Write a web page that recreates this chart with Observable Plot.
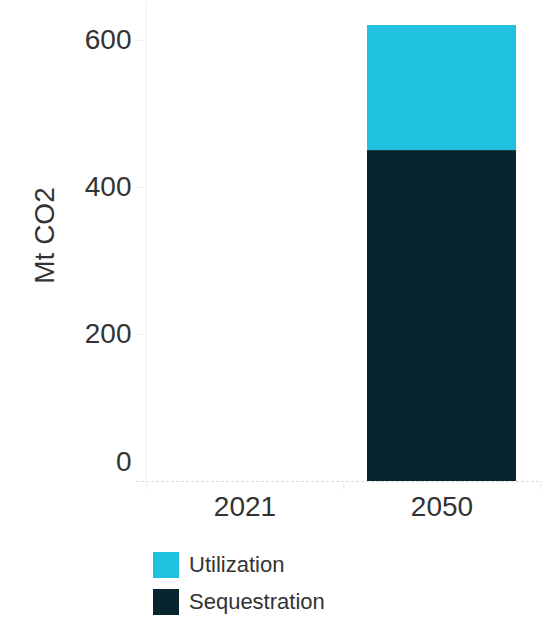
<!DOCTYPE html>
<html><head><meta charset="utf-8">
<script src="https://cdn.jsdelivr.net/npm/d3@7"></script>
<script src="https://cdn.jsdelivr.net/npm/@observablehq/plot@0.6"></script>
<style>
body{margin:0;background:#fff;font-family:"Liberation Sans",Arial,sans-serif;}
#legend{margin-left:153px;margin-top:22px;}
.item{display:flex;align-items:center;height:26px;margin-bottom:11px;font-size:22px;color:#333}
.sw{width:26px;height:26px;margin-right:10px}
</style></head><body><div id="chart"></div><div id="legend"></div>
<script>
const years = ["2021", "2050"];
const series = ["Sequestration", "Utilization"];
const sequestration = [0, 450];
const utilization = [0, 170];
const yTicks = [200, 400, 600];
const zeroTick = [0];
const colors = ["#08242e", "#21c2df"];
const yTitle = "Mt CO2";

const W = 550, H = 530, ML = 145, MR = 10, MT = 3, MB = 49;
const step = (W - ML - MR) / years.length;
const data = years.flatMap((y, i) => [
  {year: y, type: series[0], value: sequestration[i]},
  {year: y, type: series[1], value: utilization[i]}
]);

const plot = Plot.plot({
  width: W, height: H,
  marginLeft: ML, marginRight: MR, marginTop: MT, marginBottom: MB,
  style: {fontFamily: '"Liberation Sans", Arial, sans-serif', background: "white", color: "#333"},
  x: {domain: years, paddingInner: 0.245, paddingOuter: 0.1225, label: null},
  y: {domain: [0, 650], label: null},
  color: {domain: series, range: colors},
  marks: [
    Plot.ruleX([years[0]], {x: d => d, dx: -step / 2, stroke: "#eee", insetBottom: -9}),
    Plot.ruleY([0], {stroke: "#ddd", strokeDasharray: "3,2", insetLeft: -9}),
    Plot.barY(data, {x: "year", y: "value", fill: "type"}),
    Plot.axisY({ticks: yTicks, tickSize: 9, tickPadding: 5, stroke: "#eee", fontSize: 28, label: null}),
    Plot.axisY({ticks: zeroTick, tickSize: 0, tickPadding: 14, dy: -19, fontSize: 28, label: null}),
    Plot.axisX({ticks: years, tickSize: 9, tickFormat: () => "", dx: step / 2, stroke: "#eee", label: null}),
    Plot.axisX({tickSize: 0, tickPadding: 15, fontSize: 28, label: null}),
    Plot.text([yTitle], {text: d => d, frameAnchor: "left", textAnchor: "middle", dx: -100, dy: -7, rotate: -90, fontSize: 28, fill: "#333"})
  ]
});
document.getElementById("chart").append(plot);

const legend = document.getElementById("legend");
[...series].reverse().forEach(s => {
  const item = document.createElement("div");
  item.className = "item";
  const sw = document.createElement("div");
  sw.className = "sw";
  sw.style.background = colors[series.indexOf(s)];
  const t = document.createElement("span");
  t.textContent = s;
  item.append(sw, t);
  legend.append(item);
});
</script></body></html>
